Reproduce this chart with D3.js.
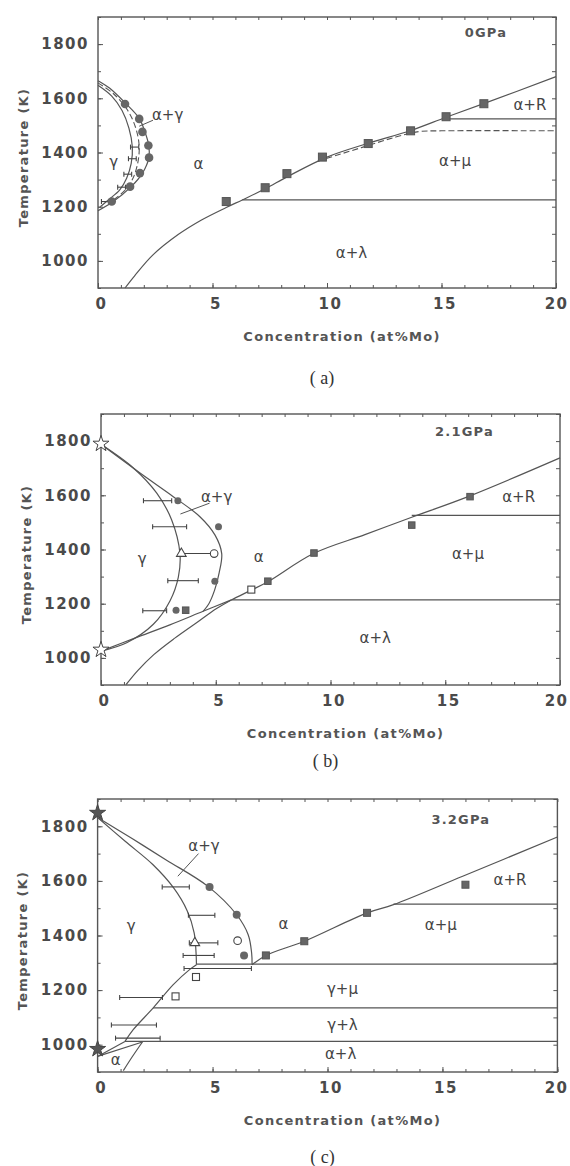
<!DOCTYPE html>
<html>
<head>
<meta charset="utf-8">
<script src="https://cdn.jsdelivr.net/npm/d3@7"></script>
<style>
  body { margin: 0; background: #fff; }
  text { font-family: "DejaVu Sans", sans-serif; }
</style>
</head>
<body>
<svg id="chart" width="570" height="1166"></svg>
<script>
// ---- shared axes ----
let xTicks = [0, 5, 10, 15, 20]
let yTicks = [1000, 1200, 1400, 1600, 1800]

// ---- (a) 0 GPa ----
let aSolvus = [[1.18, 900], [1.6, 945], [2.4, 1022], [3.5, 1097], [4.5, 1150], [5.6, 1197], [6.3, 1225], [7.3, 1266], [8.3, 1312], [10.0, 1383], [11.8, 1434], [13.65, 1481], [15.2, 1530], [16.9, 1582], [20, 1680]]
let aOuter = [[0, 1665], [0.5, 1638], [1.2, 1582], [1.8, 1526], [2.05, 1476], [2.22, 1425], [2.22, 1380], [1.95, 1325], [1.45, 1274], [0.65, 1218], [0, 1185]]
let aInner = [[0, 1648], [0.6, 1608], [1.05, 1555], [1.35, 1490], [1.5, 1420], [1.45, 1360], [1.25, 1305], [0.95, 1262], [0.45, 1225], [0.1, 1200]]
let aInnerDash = [[0, 1657], [0.7, 1615], [1.3, 1555], [1.65, 1490], [1.8, 1420], [1.72, 1355], [1.5, 1300], [1.15, 1258], [0.6, 1220]]
let aMuDash = [[9.6, 1368], [11.5, 1418], [13, 1457], [14, 1477], [15, 1480], [20, 1480]]
let aLines = [[6.3, 20, 1225], [15.2, 20, 1524]]
let aSquares = [[5.6, 1219], [7.3, 1270], [8.25, 1322], [9.8, 1383], [11.8, 1433], [13.65, 1480], [15.2, 1532], [16.85, 1580]]
let aCircles = [[1.18, 1579], [1.8, 1524], [1.94, 1476], [2.2, 1426], [2.23, 1381], [1.83, 1324], [1.4, 1274], [0.6, 1219]]
let aErr = [[1.42, 1.78, 1420], [1.33, 1.67, 1377], [1.13, 1.47, 1320], [0.86, 1.2, 1272], [0.15, 0.49, 1219]]
let aLeader = [[1.8, 1497], [2.4, 1519]]
let aLabels = [['γ', 0.69, 1365], ['α', 4.39, 1359], ['α+γ', 3.04, 1538], ['α+R', 18.86, 1575], ['α+μ', 15.59, 1371], ['α+λ', 11.07, 1031]]
let aTitle = ['0GPa', 16.94, 1842]

// ---- (b) 2.1 GPa ----
let bOuter = [[0, 1788], [1.7, 1682], [3.15, 1595], [4.31, 1521], [4.97, 1453], [5.26, 1385], [5.15, 1315], [4.95, 1250], [4.7, 1200], [4.45, 1172]]
let bInner = [[0, 1788], [1.41, 1701], [2.43, 1608], [3.08, 1509], [3.44, 1385], [3.37, 1298], [3.01, 1211], [2.28, 1124], [1.12, 1056], [0, 1025]]
let bLower = [[0, 1025], [1.5, 1074], [3, 1122], [4.45, 1172], [5.68, 1214]]
let bSolvus = [[1.09, 901], [1.6, 953], [2.3, 1012], [3.2, 1072], [4.3, 1138], [5.0, 1180], [5.68, 1214], [6.55, 1250], [7.27, 1281], [9.28, 1386], [11.5, 1455], [13.54, 1519], [16.08, 1598], [20, 1738]]
let bLines = [[5.68, 20, 1214], [13.54, 20, 1526]]
let bSquares = [[3.69, 1176], [7.27, 1283], [9.28, 1387], [13.54, 1490], [16.08, 1595]]
let bOpenSquares = [[6.55, 1252]]
let bCircles = [[3.35, 1580], [5.12, 1484], [4.96, 1283], [3.27, 1176]]
let bOpenCircles = [[4.93, 1385]]
let bTriangles = [[3.5, 1385]]
let bStars = [[0, 1790], [0, 1030]]
let bErr = [[1.85, 3.08, 1580], [2.25, 3.73, 1484], [3.5, 4.9, 1385], [2.91, 4.24, 1285], [1.82, 2.86, 1174]]
let bLeader = [[3.46, 1531], [4.73, 1571]]
let bLabels = [['γ', 1.79, 1366], ['α', 6.87, 1373], ['α+γ', 5.04, 1596], ['α+R', 18.2, 1595], ['α+μ', 15.99, 1385], ['α+λ', 11.95, 1075]]
let bTitle = ['2.1GPa', 15.84, 1837]

// ---- (c) 3.2 GPa ----
let cOuter = [[0, 1832], [1.5, 1755], [3, 1676], [4.8, 1580], [6.05, 1476], [6.55, 1403], [6.7, 1336], [6.72, 1293]]
let cInner = [[0, 1832], [1.2, 1745], [2.4, 1660], [3.3, 1575], [3.9, 1490], [4.2, 1410], [4.28, 1340], [4.3, 1293]]
let cGammaLow = [[4.3, 1293], [4.0, 1275], [3.29, 1220], [2.42, 1135], [1.55, 1055], [1.19, 1012]]
let cAlphaTop = [[0, 957], [1.19, 1012]]
let cAlphaBottom = [[0, 957], [1.95, 1010]]
let cSolvusLow = [[1.12, 905], [1.5, 955], [1.95, 1010]]
let cSolvus = [[6.72, 1293], [7.32, 1327], [8.99, 1379], [11.72, 1483], [12.87, 1513], [15.88, 1617], [20, 1761]]
let cLines = [[4.3, 20, 1295], [2.41, 20, 1135], [1.19, 20, 1012], [12.87, 20, 1515]]
let cSquares = [[7.32, 1327], [8.99, 1379], [11.72, 1483], [16.0, 1586]]
let cOpenSquares = [[4.28, 1248], [3.39, 1177]]
let cCircles = [[4.87, 1578], [6.05, 1476], [6.37, 1327]]
let cOpenCircles = [[6.09, 1381]]
let cTriangles = [[4.23, 1373]]
let cStars = [[0, 1849], [0, 984]]
let cErr = [[2.81, 3.99, 1578], [3.95, 5.1, 1474], [3.99, 5.23, 1373], [3.72, 5.07, 1327], [3.76, 6.69, 1279], [0.96, 2.82, 1173], [0.6, 2.56, 1072], [0.78, 2.72, 1024]]
let cLeader = [[3.49, 1617], [4.39, 1700]]
let cLabels = [['γ', 1.46, 1434], ['α', 8.08, 1443], ['α+γ', 4.63, 1727], ['α+R', 17.94, 1605], ['α+μ', 14.93, 1440], ['γ+μ', 10.65, 1204], ['γ+λ', 10.65, 1073], ['α+λ', 10.57, 967], ['α', 0.79, 945]]
let cTitle = ['3.2GPa', 15.8, 1824]

let panels = [
  { box: [98, 556, 17, 288], cap: '( a)', capY: 384, mark: 4.3, sq: 8, openStar: true,
    solid: [aSolvus, aOuter, aInner], dashed: [aInnerDash, aMuDash], lines: aLines,
    squares: aSquares, openSquares: [], circles: aCircles, openCircles: [], triangles: [], stars: [],
    err: aErr, leader: aLeader, labels: aLabels, title: aTitle },
  { box: [101, 560, 414, 685], cap: '( b)', capY: 767, mark: 3.5, sq: 6.5, openStar: true,
    solid: [bOuter, bInner, bLower, bSolvus], dashed: [], lines: bLines,
    squares: bSquares, openSquares: bOpenSquares, circles: bCircles, openCircles: bOpenCircles, triangles: bTriangles, stars: bStars,
    err: bErr, leader: bLeader, labels: bLabels, title: bTitle },
  { box: [97.6, 557.4, 799, 1072], cap: '( c)', capY: 1163, mark: 4, sq: 7, openStar: false,
    solid: [cOuter, cInner, cGammaLow, cAlphaTop, cAlphaBottom, cSolvusLow, cSolvus], dashed: [], lines: cLines,
    squares: cSquares, openSquares: cOpenSquares, circles: cCircles, openCircles: cOpenCircles, triangles: cTriangles, stars: cStars,
    err: cErr, leader: cLeader, labels: cLabels, title: cTitle }
]

let svg = d3.select('#chart')
let ink = '#555'

function drawPanel (p) {
  let [left, right, top, bottom] = p.box
  let x = d3.scaleLinear().domain([0, 20]).range([left, right])
  let y = d3.scaleLinear().domain([900, 1900]).range([bottom, top])
  let g = svg.append('g')

  // ticks, all pointing inward
  let axes = [
    d3.axisBottom(x).tickValues(xTicks).tickSize(-5).tickPadding(10).tickFormat(d3.format('d')),
    d3.axisBottom(x).ticks(20).tickSize(-3).tickFormat(''),
    d3.axisTop(x).ticks(20).tickSize(-3).tickFormat(''),
    d3.axisLeft(y).tickValues(yTicks).tickSize(-5).tickPadding(9).tickFormat(d3.format('d')),
    d3.axisLeft(y).ticks(10).tickSize(-3).tickFormat(''),
    d3.axisRight(y).ticks(10).tickSize(-4).tickFormat('')
  ]
  let shift = ['0,' + bottom, '0,' + bottom, '0,' + top, left + ',0', left + ',0', right + ',0']
  axes.forEach(function (ax, i) {
    let a = g.append('g')
      .attr('transform', 'translate(' + shift[i] + ')')
      .call(ax)
    a.select('.domain').remove()
    a.selectAll('line').attr('stroke', ink).attr('stroke-width', 1)
    a.selectAll('text')
      .attr('fill', '#4a4a4a')
      .attr('font-family', '"DejaVu Sans", sans-serif')
      .attr('font-size', 15)
      .attr('font-weight', 'bold')
      .attr('letter-spacing', 1.5)
    if (i === 0) {
      a.selectAll('text')
        .attr('dx', function (d) { return d === 20 ? Math.min(12, 568 - right) : 3 })
        .attr('text-anchor', function (d) { return d === 20 ? 'end' : 'middle' })
    }
  })

  g.append('rect')
    .attr('x', left).attr('y', top)
    .attr('width', right - left).attr('height', bottom - top)
    .attr('fill', 'none').attr('stroke', ink).attr('stroke-width', 1.4)

  // axis titles
  g.append('text')
    .attr('transform', 'translate(' + (left - 75) + ',' + ((top + bottom) / 2 + 5) + ') rotate(-90)')
    .attr('text-anchor', 'middle').attr('dy', '0.35em')
    .attr('fill', ink).attr('font-size', 13).attr('font-weight', 'bold').attr('letter-spacing', 1.3)
    .text('Temperature (K)')
  g.append('text')
    .attr('x', (left + right) / 2 + 15).attr('y', bottom + 48)
    .attr('text-anchor', 'middle').attr('dy', '0.35em')
    .attr('fill', ink).attr('font-size', 13).attr('font-weight', 'bold').attr('letter-spacing', 1.3)
    .text('Concentration (at%Mo)')
  g.append('text')
    .attr('x', (left + right) / 2 - 5).attr('y', p.capY)
    .attr('text-anchor', 'middle')
    .attr('fill', '#333').attr('font-size', 18)
    .style('font-family', '"Liberation Serif", serif')
    .text(p.cap)

  let line = d3.line()
    .x(function (d) { return x(d[0]) })
    .y(function (d) { return y(d[1]) })
    .curve(d3.curveCatmullRom.alpha(0.5))

  g.selectAll('path.solid').data(p.solid).enter().append('path')
    .attr('class', 'solid').attr('d', line)
    .attr('fill', 'none').attr('stroke', ink).attr('stroke-width', 1.2)
  g.selectAll('path.dash').data(p.dashed).enter().append('path')
    .attr('class', 'dash').attr('d', line)
    .attr('fill', 'none').attr('stroke', ink).attr('stroke-width', 1.1).attr('stroke-dasharray', '6,3')

  g.selectAll('line.iso').data(p.lines).enter().append('line')
    .attr('class', 'iso')
    .attr('x1', function (d) { return x(d[0]) }).attr('x2', function (d) { return x(d[1]) })
    .attr('y1', function (d) { return y(d[2]) }).attr('y2', function (d) { return y(d[2]) })
    .attr('stroke', ink).attr('stroke-width', 1.3)

  // error bars
  let eb = g.selectAll('g.err').data(p.err).enter().append('g').attr('class', 'err')
    .attr('stroke', '#444').attr('stroke-width', 1.1)
  eb.append('line')
    .attr('x1', function (d) { return x(d[0]) }).attr('x2', function (d) { return x(d[1]) })
    .attr('y1', function (d) { return y(d[2]) }).attr('y2', function (d) { return y(d[2]) })
  eb.append('line')
    .attr('x1', function (d) { return x(d[0]) }).attr('x2', function (d) { return x(d[0]) })
    .attr('y1', function (d) { return y(d[2]) - 2.5 }).attr('y2', function (d) { return y(d[2]) + 2.5 })
  eb.append('line')
    .attr('x1', function (d) { return x(d[1]) }).attr('x2', function (d) { return x(d[1]) })
    .attr('y1', function (d) { return y(d[2]) - 2.5 }).attr('y2', function (d) { return y(d[2]) + 2.5 })

  g.append('path').datum(p.leader).attr('d', d3.line().x(function (d) { return x(d[0]) }).y(function (d) { return y(d[1]) }))
    .attr('stroke', ink).attr('stroke-width', 1).attr('fill', 'none')

  // markers
  let s = p.sq
  g.selectAll('rect.sq').data(p.squares).enter().append('rect').attr('class', 'sq')
    .attr('x', function (d) { return x(d[0]) - s / 2 }).attr('y', function (d) { return y(d[1]) - s / 2 })
    .attr('width', s).attr('height', s).attr('fill', '#666').attr('stroke', '#555')
  g.selectAll('rect.osq').data(p.openSquares).enter().append('rect').attr('class', 'osq')
    .attr('x', function (d) { return x(d[0]) - 3.5 }).attr('y', function (d) { return y(d[1]) - 3.5 })
    .attr('width', 7).attr('height', 7).attr('fill', '#fff').attr('stroke', '#444').attr('stroke-width', 1.1)
  g.selectAll('circle.c').data(p.circles).enter().append('circle').attr('class', 'c')
    .attr('cx', function (d) { return x(d[0]) }).attr('cy', function (d) { return y(d[1]) })
    .attr('r', p.mark).attr('fill', '#666')
  g.selectAll('circle.oc').data(p.openCircles).enter().append('circle').attr('class', 'oc')
    .attr('cx', function (d) { return x(d[0]) }).attr('cy', function (d) { return y(d[1]) })
    .attr('r', 3.8).attr('fill', '#fff').attr('stroke', '#444').attr('stroke-width', 1.1)
  g.selectAll('path.tri').data(p.triangles).enter().append('path').attr('class', 'tri')
    .attr('d', d3.symbol().type(d3.symbolTriangle).size(40))
    .attr('transform', function (d) { return 'translate(' + x(d[0]) + ',' + y(d[1]) + ')' })
    .attr('fill', '#fff').attr('stroke', '#444').attr('stroke-width', 1.1)
  g.selectAll('path.star').data(p.stars).enter().append('path').attr('class', 'star')
    .attr('d', d3.symbol().type(d3.symbolStar).size(80))
    .attr('transform', function (d) { return 'translate(' + x(d[0]) + ',' + y(d[1]) + ')' })
    .attr('fill', p.openStar ? '#fff' : '#555').attr('stroke', '#444').attr('stroke-width', 1)

  g.selectAll('text.lab').data(p.labels).enter().append('text').attr('class', 'lab')
    .attr('x', function (d) { return x(d[1]) }).attr('y', function (d) { return y(d[2]) })
    .attr('text-anchor', 'middle').attr('dy', '0.35em')
    .attr('fill', '#444').attr('font-size', 15)
    .text(function (d) { return d[0] })

  g.append('text')
    .attr('x', x(p.title[1])).attr('y', y(p.title[2]))
    .attr('text-anchor', 'middle').attr('dy', '0.35em')
    .attr('fill', ink).attr('font-size', 13).attr('font-weight', 'bold').attr('letter-spacing', 1.2)
    .text(p.title[0])
}

panels.forEach(drawPanel)
</script>
</body>
</html>
